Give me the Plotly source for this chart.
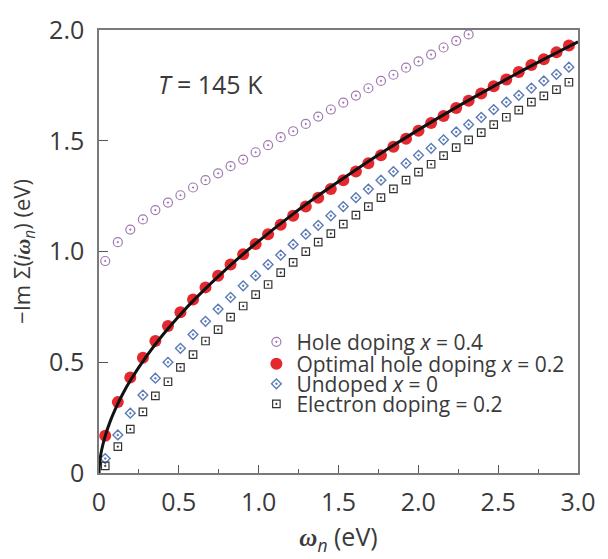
import plotly.graph_objects as go

# Matsubara frequencies (eV), n = 0..37
omega_n = [0.039, 0.118, 0.196, 0.275, 0.353, 0.432, 0.510, 0.589, 0.667, 0.746,
           0.824, 0.903, 0.981, 1.059, 1.138, 1.216, 1.295, 1.373, 1.452, 1.530,
           1.609, 1.687, 1.766, 1.844, 1.923, 2.001, 2.080, 2.158, 2.237, 2.315,
           2.394, 2.472, 2.551, 2.629, 2.708, 2.786, 2.865, 2.943]

hole_x04 = [0.957, 1.042, 1.099, 1.145, 1.187, 1.221, 1.254, 1.289, 1.322, 1.353,
            1.385, 1.415, 1.448, 1.480, 1.516, 1.543, 1.576, 1.609, 1.641, 1.672,
            1.704, 1.737, 1.770, 1.798, 1.830, 1.858, 1.889, 1.921, 1.951, 1.980]

optimal_x02 = [0.168, 0.320, 0.431, 0.520, 0.596, 0.664, 0.726, 0.783, 0.838, 0.891,
               0.941, 0.988, 1.034, 1.078, 1.121, 1.161, 1.203, 1.243, 1.282, 1.322,
               1.361, 1.398, 1.434, 1.473, 1.509, 1.545, 1.580, 1.612, 1.648, 1.681,
               1.713, 1.746, 1.777, 1.810, 1.842, 1.868, 1.899, 1.930]

undoped_x0 = [0.065, 0.172, 0.270, 0.352, 0.428, 0.500, 0.563, 0.625, 0.685, 0.740,
              0.793, 0.845, 0.891, 0.941, 0.984, 1.032, 1.078, 1.118, 1.161, 1.203,
              1.243, 1.282, 1.322, 1.361, 1.398, 1.434, 1.466, 1.504, 1.540, 1.573,
              1.606, 1.641, 1.674, 1.705, 1.738, 1.770, 1.800, 1.832]

electron_02 = [0.032, 0.119, 0.198, 0.276, 0.348, 0.412, 0.477, 0.534, 0.596, 0.647,
               0.704, 0.754, 0.805, 0.851, 0.905, 0.951, 0.999, 1.042, 1.081, 1.124,
               1.164, 1.203, 1.243, 1.283, 1.322, 1.358, 1.394, 1.433, 1.469, 1.504,
               1.537, 1.573, 1.606, 1.638, 1.674, 1.703, 1.731, 1.764]

fit_x = [0, 0.002, 0.005, 0.01, 0.02, 0.04, 0.07, 0.1, 0.15, 0.2, 0.3, 0.4, 0.5,
         0.6, 0.8, 1.0, 1.2, 1.4, 1.6, 1.8, 2.0, 2.2, 2.4, 2.6, 2.8, 3.0]
fit_y = [0, 0.031, 0.052, 0.078, 0.115, 0.170, 0.233, 0.285, 0.359, 0.422, 0.530,
         0.624, 0.708, 0.785, 0.923, 1.047, 1.161, 1.266, 1.365, 1.459, 1.549,
         1.635, 1.717, 1.797, 1.873, 1.947]

x_tickvals = [0, 0.5, 1.0, 1.5, 2.0, 2.5, 3.0]
x_ticktext = ["0", "0.5", "1.0", "1.5", "2.0", "2.5", "3.0"]
x_minor = [0.25, 0.75, 1.25, 1.75, 2.25, 2.75]
y_tickvals = [0, 0.5, 1.0, 1.5, 2.0]
y_ticktext = ["0", "0.5", "1.0", "1.5", "2.0"]

names = ["Hole doping <i>x</i> = 0.4",
         "Optimal hole doping <i>x</i> = 0.2",
         "Undoped <i>x</i> = 0",
         "Electron doping = 0.2"]

TXT = "#3a3a3a"
FONT = "Open Sans"

fig = go.Figure()

fig.add_trace(go.Scatter(
    x=omega_n[:len(hole_x04)], y=hole_x04, mode="markers", name=names[0],
    legend="legend",
    marker=dict(symbol="circle-open-dot", size=9, color="#a07ab0",
                line=dict(width=1.2, color="#a07ab0"))))

fig.add_trace(go.Scatter(
    x=omega_n, y=optimal_x02, mode="markers", name=names[1], legend="legend2",
    marker=dict(symbol="circle", size=12, color="#e5282e", line=dict(width=0))))

fig.add_trace(go.Scatter(
    x=omega_n, y=undoped_x0, mode="markers", name=names[2], legend="legend3",
    marker=dict(symbol="diamond-open-dot", size=7.5, color="#5a7bb5",
                line=dict(width=1.4, color="#5a7bb5"))))

fig.add_trace(go.Scatter(
    x=omega_n, y=electron_02, mode="markers", name=names[3], legend="legend4",
    marker=dict(symbol="square-open-dot", size=7.5, color="#333333",
                line=dict(width=1.2, color="#333333"))))

fig.add_trace(go.Scatter(
    x=fit_x, y=fit_y, mode="lines", line=dict(color="#111111", width=3, shape="spline"),
    showlegend=False, hoverinfo="skip"))

L, R, T, B = 99, 19, 16, 79
W, H = 608, 559
ph = H - T - B


def ly(px):
    return (H - B - px) / ph


leg_common = dict(font=dict(family=FONT, size=21, color=TXT), bgcolor="rgba(0,0,0,0)",
                  borderwidth=0, xanchor="left", yanchor="middle",
                  itemwidth=30, tracegroupgap=0)
lx = (260 - L) / (W - L - R)

fig.update_layout(
    width=W, height=H,
    margin=dict(l=L, r=R, t=T, b=B, pad=0),
    paper_bgcolor="white", plot_bgcolor="white",
    font=dict(family=FONT, color=TXT),
    legend=dict(x=lx, y=ly(343), **leg_common),
    legend2=dict(x=lx, y=ly(366), **leg_common),
    legend3=dict(x=lx, y=ly(387), **leg_common),
    legend4=dict(x=lx, y=ly(408), **leg_common),
    xaxis=dict(range=[0, 3.0], tickmode="array", tickvals=x_tickvals, ticktext=x_ticktext,
               ticks="inside", ticklen=8, tickwidth=1.2, tickcolor="#555555",
               minor=dict(tickmode="array", tickvals=x_minor, ticks="inside", ticklen=4,
                          tickwidth=1.2, tickcolor="#555555"),
               showline=True, linecolor="#7a7a7a", linewidth=1.5, mirror=True,
               showgrid=False, zeroline=False,
               tickfont=dict(family=FONT, size=25, color=TXT),
               ticklabelstandoff=6, ticklabeloverflow="allow",
               title=dict(text="<span style=\"font-family:'Liberation Serif'\"><i><b>ω</b></i></span><sub><i>n</i></sub> (eV)",
                          font=dict(family=FONT, size=25, color=TXT), standoff=12)),
    yaxis=dict(range=[0, 2.0], tickmode="array", tickvals=y_tickvals, ticktext=y_ticktext,
               ticks="inside", ticklen=9, tickwidth=1.2, tickcolor="#555555",
               showline=True, linecolor="#7a7a7a", linewidth=1.5, mirror=True,
               showgrid=False, zeroline=False,
               tickfont=dict(family=FONT, size=25, color=TXT),
               ticklabelstandoff=8, ticklabeloverflow="allow",
               title=dict(text="−Im Σ(<i>i</i><span style=\"font-family:'Liberation Serif'\"><i><b>ω</b></i></span><sub><i>n</i></sub>) (eV)",
                          font=dict(family=FONT, size=22, color=TXT), standoff=12)),
    annotations=[dict(text="<i>T</i> = 145 K", x=(157 - L) / (W - L - R), y=ly(73),
                      xref="paper", yref="paper", xanchor="left", yanchor="middle",
                      showarrow=False, font=dict(family=FONT, size=25, color=TXT))],
)

fig.write_html("out.html")
